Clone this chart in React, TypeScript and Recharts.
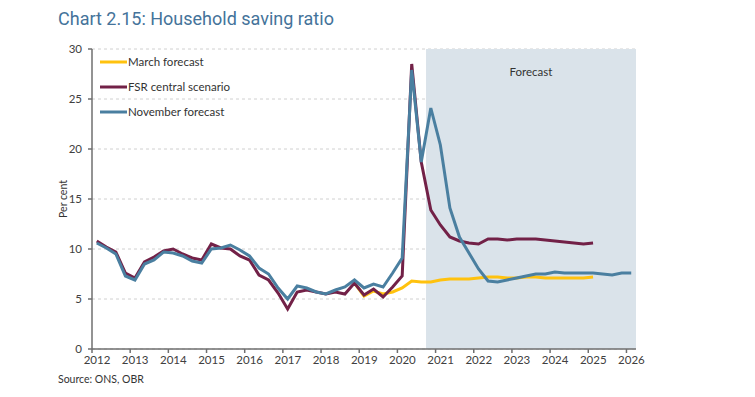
import React from 'react';
import { LineChart, Line, XAxis, YAxis, CartesianGrid, ReferenceArea } from 'recharts';

const quarterLabels = [
  '2012Q1','2012Q2','2012Q3','2012Q4','2013Q1','2013Q2','2013Q3','2013Q4',
  '2014Q1','2014Q2','2014Q3','2014Q4','2015Q1','2015Q2','2015Q3','2015Q4',
  '2016Q1','2016Q2','2016Q3','2016Q4','2017Q1','2017Q2','2017Q3','2017Q4',
  '2018Q1','2018Q2','2018Q3','2018Q4','2019Q1','2019Q2','2019Q3','2019Q4',
  '2020Q1','2020Q2','2020Q3','2020Q4','2021Q1','2021Q2','2021Q3','2021Q4',
  '2022Q1','2022Q2','2022Q3','2022Q4','2023Q1','2023Q2','2023Q3','2023Q4',
  '2024Q1','2024Q2','2024Q3','2024Q4','2025Q1','2025Q2','2025Q3','2025Q4',
  '2026Q1',
];

// March forecast (visible from 2018Q4 to 2025Q1)
const marchForecast: (number | null)[] = [
  null, null, null, null, null, null, null, null,
  null, null, null, null, null, null, null, null,
  null, null, null, null, null, null, null, null,
  null, null, null, 6.6, 5.3, 5.8, 5.5, 5.7,
  6.1, 6.8, 6.7, 6.7, 6.9, 7.0, 7.0, 7.0,
  7.1, 7.2, 7.2, 7.1, 7.1, 7.2, 7.2, 7.1,
  7.1, 7.1, 7.1, 7.1, 7.2,
];

const fsrCentral: (number | null)[] = [
  10.8, 10.2, 9.7, 7.6, 7.1, 8.7, 9.2, 9.8,
  10.0, 9.5, 9.1, 8.9, 10.5, 10.1, 10.0, 9.3,
  8.9, 7.4, 6.9, 5.6, 4.0, 5.7, 5.9, 5.7,
  5.5, 5.7, 5.5, 6.6, 5.4, 6.0, 5.2, 6.2,
  7.3, 28.5, 18.7, 13.9, 12.4, 11.2, 10.8, 10.6,
  10.5, 11.0, 11.0, 10.9, 11.0, 11.0, 11.0, 10.9,
  10.8, 10.7, 10.6, 10.5, 10.6,
];

const novemberForecast: (number | null)[] = [
  10.6, 10.1, 9.5, 7.3, 6.9, 8.5, 8.9, 9.7,
  9.6, 9.3, 8.8, 8.6, 10.0, 10.1, 10.4, 9.9,
  9.3, 8.1, 7.5, 6.1, 5.0, 6.3, 6.1, 5.7,
  5.5, 5.9, 6.2, 6.9, 6.1, 6.5, 6.2, 7.6,
  9.1, 27.9, 18.7, 24.1, 20.4, 14.1, 11.2, 9.6,
  8.0, 6.8, 6.7, 6.9, 7.1, 7.3, 7.5, 7.5,
  7.7, 7.6, 7.6, 7.6, 7.6, 7.5, 7.4, 7.6,
  7.6,
];

const yearTicks = [2012, 2013, 2014, 2015, 2016, 2017, 2018, 2019, 2020, 2021, 2022, 2023, 2024, 2025, 2026];
const yTicks = [0, 5, 10, 15, 20, 25, 30];

const forecastStart = 2020.75;
const axisEnd = 2026.25;

// quarter mid-point on a continuous year axis
const quarterToTime = (label: string) => {
  const year = Number(label.slice(0, 4));
  const q = Number(label.slice(5));
  return year + (q - 1) / 4 + 0.125;
};

const data = quarterLabels.map((label, i) => ({
  label,
  t: quarterToTime(label),
  march: marchForecast[i] ?? null,
  fsr: fsrCentral[i] ?? null,
  nov: novemberForecast[i] ?? null,
}));

const COLORS = {
  march: '#FFC20E',
  fsr: '#722147',
  nov: '#4A7FA0',
};

const series = [
  { key: 'march', name: 'March forecast', color: COLORS.march },
  { key: 'fsr', name: 'FSR central scenario', color: COLORS.fsr },
  { key: 'nov', name: 'November forecast', color: COLORS.nov },
];

const FONT = 'Lato, "Open Sans", sans-serif';

export default function App() {
  return (
    <div style={{ position: 'absolute', left: 0, top: 0, width: 755, height: 397, background: '#fff' }}>
      <div
        style={{
          position: 'absolute',
          left: 58,
          top: 8,
          fontFamily: 'Roboto, "Open Sans", sans-serif',
          fontSize: 18,
          color: '#44739A',
          whiteSpace: 'nowrap',
        }}
      >
        Chart 2.15: Household saving ratio
      </div>
      <div
        style={{
          position: 'absolute',
          left: 63,
          top: 199,
          transform: 'translate(-50%, -50%) rotate(-90deg)',
          fontFamily: FONT,
          fontSize: 10.5,
          color: '#333',
          whiteSpace: 'nowrap',
        }}
      >
        Per cent
      </div>
      <div
        style={{
          position: 'absolute',
          left: 58,
          top: 373,
          fontFamily: FONT,
          fontSize: 10.5,
          color: '#333',
          whiteSpace: 'nowrap',
        }}
      >
        Source: ONS, OBR
      </div>
      <LineChart
        width={755}
        height={397}
        data={data}
        margin={{ top: 49, right: 119, bottom: 18, left: 52 }}
      >
        <ReferenceArea
          x1={forecastStart}
          x2={axisEnd}
          y1={0}
          y2={30}
          fill="#DAE3EA"
          fillOpacity={1}
          stroke="none"
          ifOverflow="hidden"
          label={{ value: 'Forecast', position: 'insideTop', offset: 19, fill: '#333', fontSize: 11.5, fontFamily: FONT }}
        />
        <CartesianGrid vertical={false} stroke="#D0D0D0" strokeDasharray="3 3" />
        <XAxis
          type="number"
          dataKey="t"
          domain={[2012, axisEnd]}
          ticks={yearTicks}
          interval={0}
          allowDataOverflow
          height={30}
          tickSize={4}
          tickMargin={3}
          stroke="#6F6F6F"
          strokeWidth={1.5}
          tick={{ fontSize: 11.5, fill: '#404040', fontFamily: FONT, dx: 5 }}
        />
        <YAxis
          type="number"
          domain={[0, 30]}
          ticks={yTicks}
          interval={0}
          width={40}
          tickSize={4}
          tickMargin={6}
          stroke="#6F6F6F"
          strokeWidth={1.5}
          tick={{ fontSize: 11.5, fill: '#404040', fontFamily: FONT }}
        />
        {series.map((s) => (
          <Line
            key={s.key}
            dataKey={s.key}
            name={s.name}
            stroke={s.color}
            strokeWidth={3}
            dot={false}
            isAnimationActive={false}
            connectNulls={false}
          />
        ))}
      </LineChart>
      <div
        style={{
          position: 'absolute',
          left: 100,
          top: 49,
          fontFamily: FONT,
          fontSize: 11.5,
          color: '#333',
        }}
      >
        {series.map((s) => (
          <div key={s.key} style={{ height: 25, display: 'flex', alignItems: 'center', whiteSpace: 'nowrap' }}>
            <svg width={27} height={6} style={{ marginRight: 1 }}>
              <line x1={0} y1={3} x2={27} y2={3} stroke={s.color} strokeWidth={3} />
            </svg>
            <span>{s.name}</span>
          </div>
        ))}
      </div>
    </div>
  );
}
